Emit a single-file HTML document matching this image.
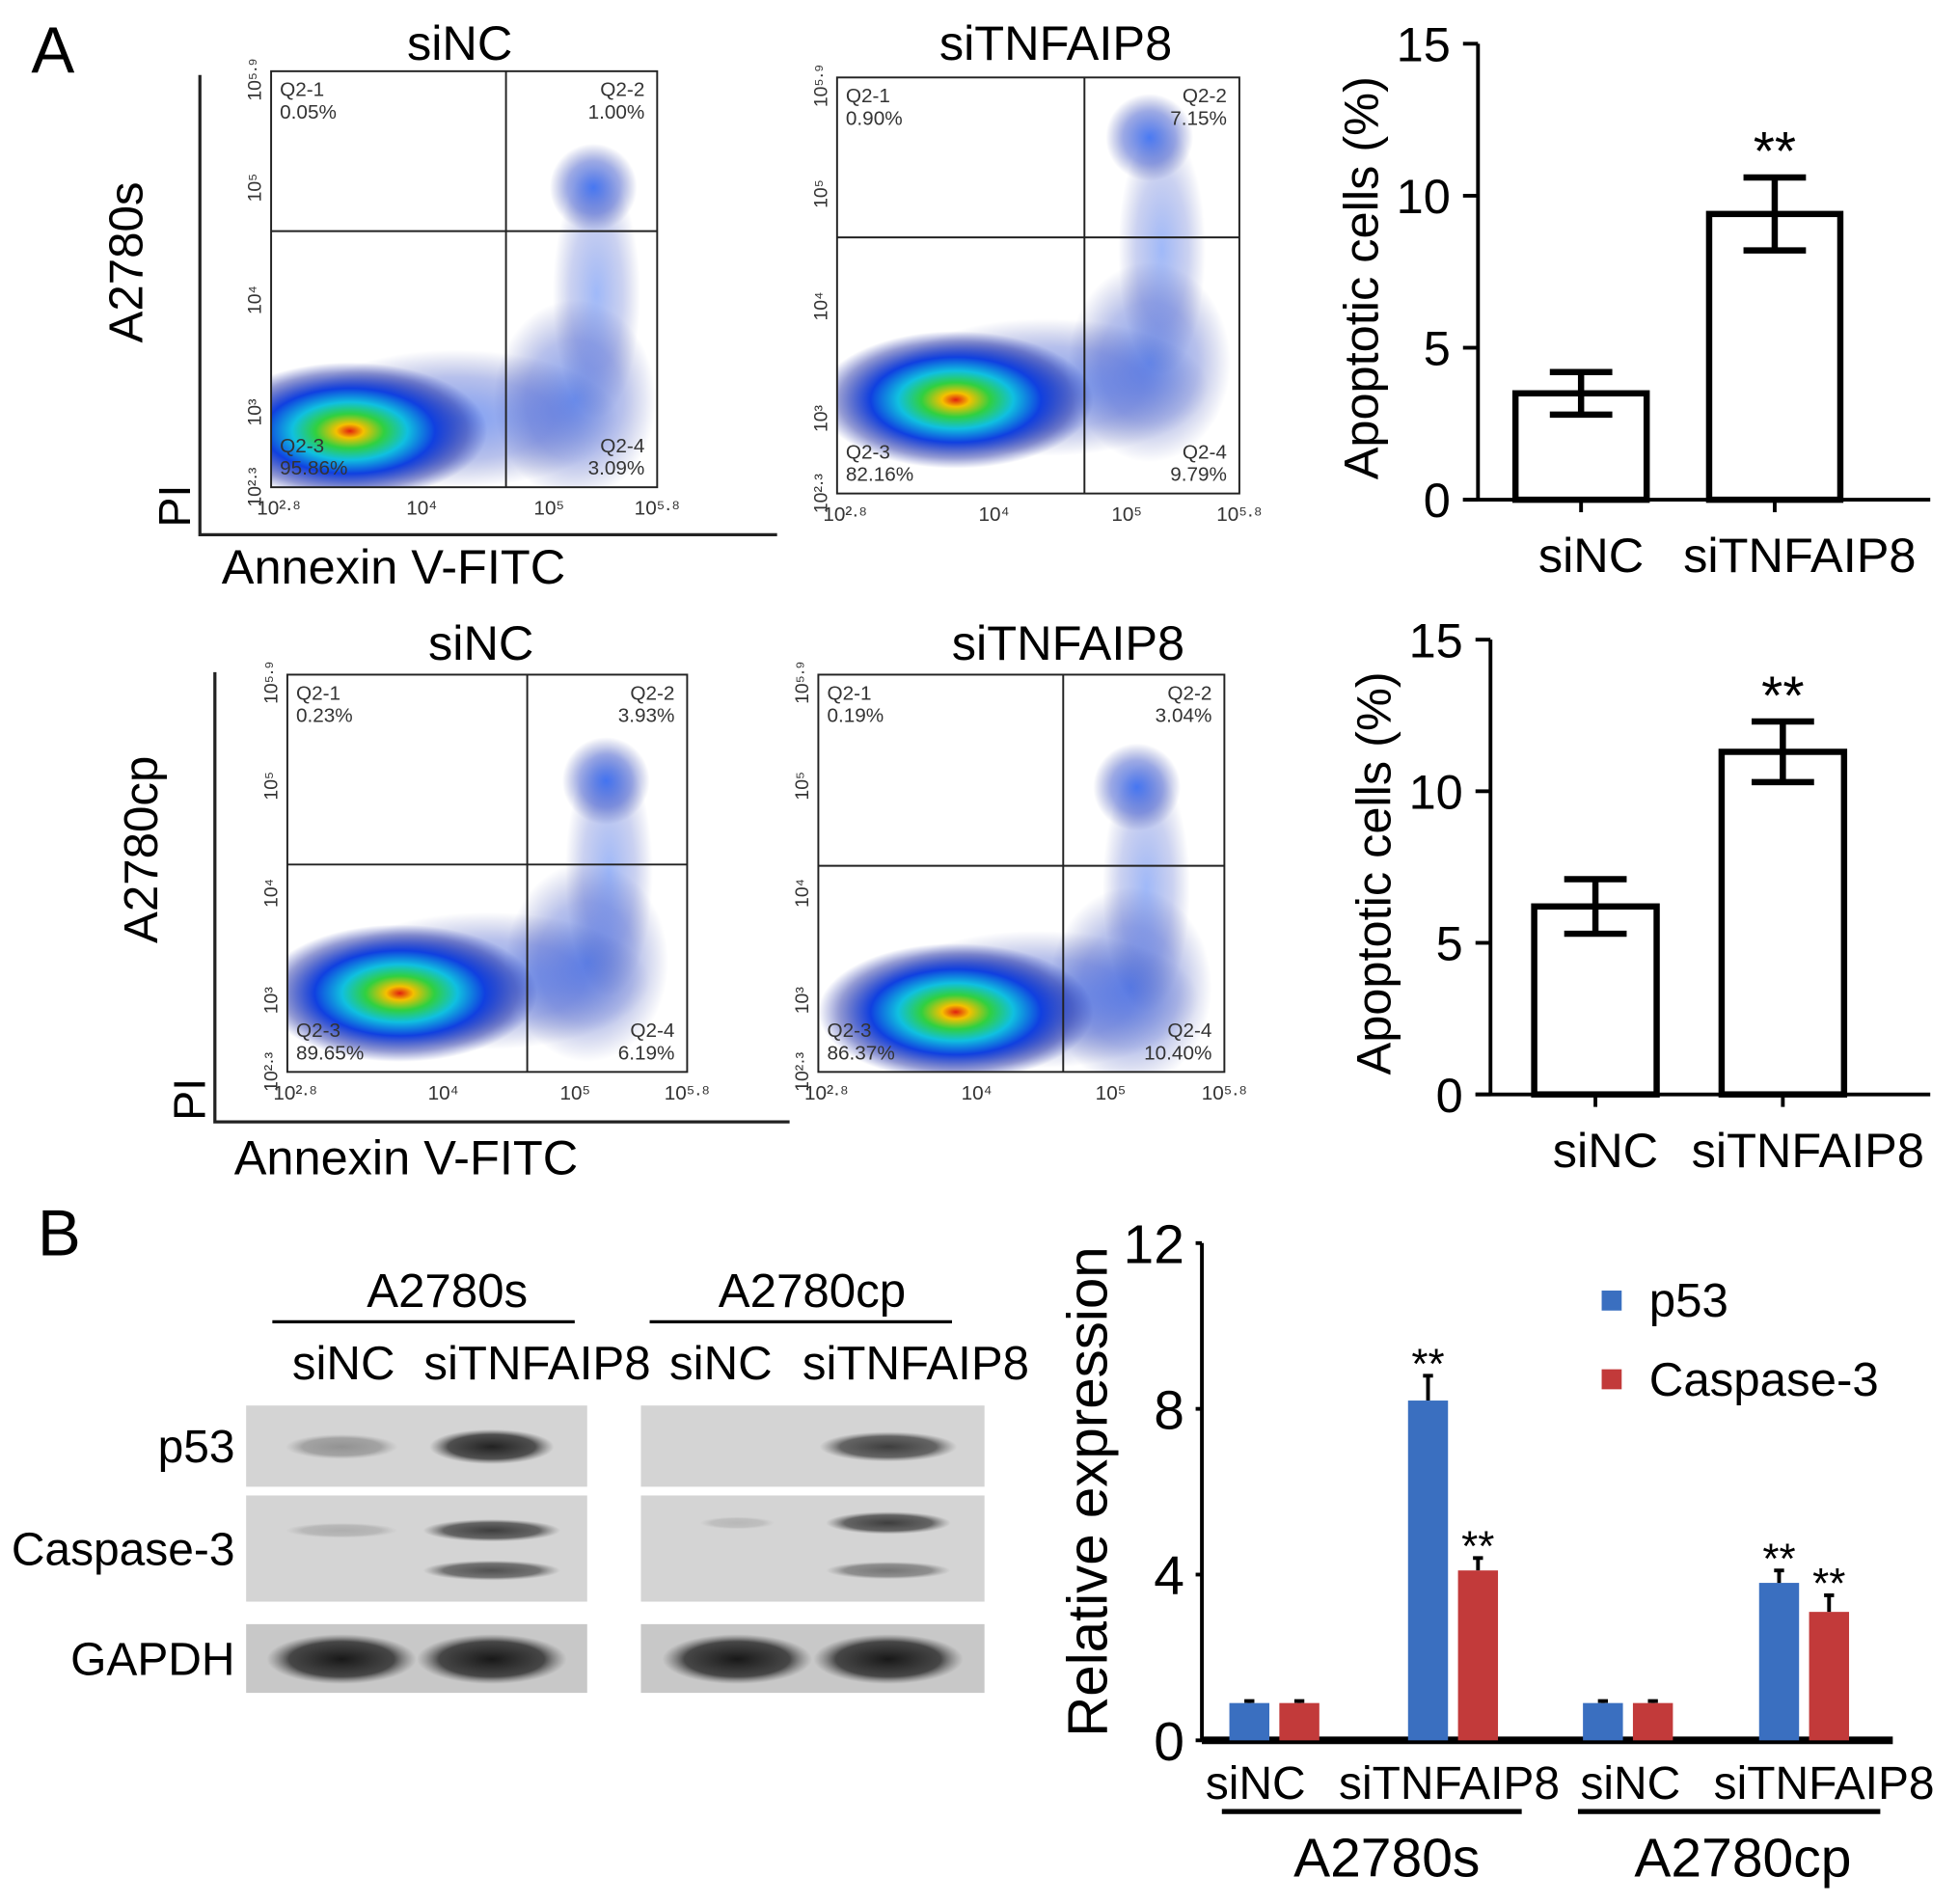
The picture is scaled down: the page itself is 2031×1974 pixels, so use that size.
<!DOCTYPE html>
<html><head><meta charset="utf-8"><style>
html,body{margin:0;padding:0;background:#fff}
svg{display:block}
text{font-family:"Liberation Sans",Arial,sans-serif}
</style></head><body>
<svg id="fig" width="2031" height="1974" viewBox="0 0 1568 1524" preserveAspectRatio="none" xmlns="http://www.w3.org/2000/svg">
<defs>
<radialGradient id="dens" cx="0.5" cy="0.5" r="0.5">
<stop offset="0" stop-color="#e02010"/><stop offset="0.1" stop-color="#f5c000"/><stop offset="0.25" stop-color="#30d040"/><stop offset="0.42" stop-color="#10c0e0"/><stop offset="0.62" stop-color="#1040e0"/><stop offset="0.85" stop-color="#1020a0" stop-opacity="0.45"/><stop offset="1" stop-color="#1020a0" stop-opacity="0"/>
</radialGradient>
<radialGradient id="blu" cx="0.5" cy="0.5" r="0.5">
<stop offset="0" stop-color="#1050f0"/><stop offset="0.6" stop-color="#1030c0" stop-opacity="0.55"/><stop offset="1" stop-color="#102090" stop-opacity="0"/>
</radialGradient>
<radialGradient id="band" cx="0.5" cy="0.5" r="0.5">
<stop offset="0" stop-color="#181818"/><stop offset="0.7" stop-color="#303030" stop-opacity="0.85"/><stop offset="1" stop-color="#606060" stop-opacity="0"/>
</radialGradient>
</defs>
<g id="flow"></g>
<g id="wb"></g>
<g id="bars1"></g>
<g id="bars2"></g>
<g id="bars3"></g>
</svg>
<script>
// ---- chart data ----
const apopCats = ["siNC", "siTNFAIP8"];
const apopTicks = [0, 5, 10, 15];
const apopS = [3.5, 9.4];
const apopSErr = [0.7, 1.2];
const apopCp = [6.2, 11.3];
const apopCpErr = [0.9, 1.0];
const exprCats = ["siNC", "siTNFAIP8", "siNC", "siTNFAIP8"];
const exprTicks = [0, 4, 8, 12];
const p53Vals = [0.9, 8.2, 0.9, 3.8];
const p53Err = [0.05, 0.6, 0.05, 0.3];
const casp3Vals = [0.9, 4.1, 0.9, 3.1];
const casp3Err = [0.05, 0.3, 0.05, 0.4];
const sigP53 = [false, true, false, true];
const sigCasp = [false, true, false, true];

const NS = "http://www.w3.org/2000/svg";
function mk(parent, tag, attrs, txt) {
  const e = document.createElementNS(NS, tag);
  for (const k in attrs) e.setAttribute(k, attrs[k]);
  if (txt !== undefined) e.textContent = txt;
  parent.appendChild(e);
  return e;
}

// ---- apoptosis bar charts ----
function apopChart(g, ax, y0, y15, xEnd, vals, errs, barX, barW, name) {
  const ys = v => y0 - (v / 15) * (y0 - y15);
  let e = mk(g, "line", {x1: ax, y1: y15, x2: ax, y2: y0, stroke: "#000", "stroke-width": 3});
  
  
  e = mk(g, "line", {x1: ax - 12, y1: y0, x2: xEnd, y2: y0, stroke: "#000", "stroke-width": 3});
  
  
  apopTicks.forEach(t => {
    mk(g, "line", {x1: ax - 12, y1: ys(t), x2: ax, y2: ys(t), stroke: "#000", "stroke-width": 3});
    const tl = mk(g, "text", {x: ax - 22, y: ys(t) + 14, "font-size": 39, "text-anchor": "end"}, t);
    
    
  });
  vals.forEach((v, i) => {
    const x = barX[i], cx = x + barW / 2;
    const r = mk(g, "rect", {x: x, y: ys(v), width: barW, height: y0 - ys(v), fill: "#fff", stroke: "#000", "stroke-width": 5});
    
    
    const eb = mk(g, "path", {d: `M${cx},${ys(v + errs[i])}V${ys(v - errs[i])}M${cx - 25},${ys(v + errs[i])}h50M${cx - 25},${ys(v - errs[i])}h50`, stroke: "#000", "stroke-width": 5, fill: "none"});
    
    
    mk(g, "line", {x1: cx, y1: y0, x2: cx, y2: y0 + 10, stroke: "#000", "stroke-width": 3});
    const lab = mk(g, "text", {x: cx + (i ? 20 : 8), y: y0 + 58, "font-size": 39, "text-anchor": "middle"}, apopCats[i]);
    
    
  });
  const st = mk(g, "text", {x: barX[1] + barW / 2, y: ys(vals[1] + errs[1]) - 6, "font-size": 44, "text-anchor": "middle"}, "**");
  
  
  const yt = mk(g, "text", {transform: `translate(${ax - 80},${(y0 + y15) / 2 + 5}) rotate(-90)`, "font-size": 39, "text-anchor": "middle"}, "Apoptotic cells (%)");
  
  
}
apopChart(document.getElementById("bars1"), 1183, 400, 35, 1545, apopS, apopSErr, [1213, 1368], 105, "apoptosis-a2780s");
apopChart(document.getElementById("bars2"), 1193, 876, 512, 1545, apopCp, apopCpErr, [1228, 1378], 98, "apoptosis-a2780cp");

// ---- relative expression chart ----
(function () {
  const g = document.getElementById("bars3");
  const ax = 962, y0 = 1393, yTop = 995;
  const ys = v => y0 - (v / 12) * (y0 - yTop);
  const groupX = [984, 1127, 1267, 1408];
  const labelShift = [-15, -3, 2, 16];
  const bw = 32, gap = 8;
  let e = mk(g, "line", {x1: ax, y1: yTop, x2: ax, y2: y0, stroke: "#000", "stroke-width": 3});
  
  
  e = mk(g, "line", {x1: ax, y1: y0, x2: 1515, y2: y0, stroke: "#000", "stroke-width": 6});
  
  
  exprTicks.forEach(t => {
    mk(g, "line", {x1: ax - 5, y1: ys(t), x2: ax, y2: ys(t), stroke: "#000", "stroke-width": 3});
    const tl = mk(g, "text", {x: ax - 14, y: ys(t) + 16, "font-size": 44, "text-anchor": "end"}, t);
    
    
  });
  function bar(x, v, err, col, sig, nm) {
    const r = mk(g, "rect", {x: x, y: ys(v), width: bw, height: y0 - ys(v), fill: col});
    
    
    const c = x + bw / 2;
    mk(g, "path", {d: `M${c},${ys(v)}V${ys(v + err)}M${c - 4},${ys(v + err)}h8`, stroke: "#000", "stroke-width": 3});
    if (sig) {
      const s = mk(g, "text", {x: c, y: ys(v + err) + 2, "font-size": 34, "text-anchor": "middle"}, "**");
      
      
    }
  }
  exprCats.forEach((c, i) => {
    bar(groupX[i], p53Vals[i], p53Err[i], "#3a6fc0", sigP53[i], 'bar-p53-' + i);
    bar(groupX[i] + bw + gap, casp3Vals[i], casp3Err[i], "#c23a3a", sigCasp[i], 'bar-caspase3-' + i);
    const l = mk(g, "text", {x: groupX[i] + bw + gap / 2 + labelShift[i], y: 1440, "font-size": 37, "text-anchor": "middle"}, c);
    
    
  });
  mk(g, "line", {x1: 978, y1: 1450, x2: 1218, y2: 1450, stroke: "#000", "stroke-width": 4});
  mk(g, "line", {x1: 1263, y1: 1450, x2: 1505, y2: 1450, stroke: "#000", "stroke-width": 4});
  let t = mk(g, "text", {x: 1110, y: 1502, "font-size": 44, "text-anchor": "middle"}, "A2780s");
  
  
  t = mk(g, "text", {x: 1395, y: 1502, "font-size": 44, "text-anchor": "middle"}, "A2780cp");
  
  
  t = mk(g, "text", {transform: `translate(886,${(y0 + yTop) / 2}) rotate(-90)`, "font-size": 45, "text-anchor": "middle"}, "Relative expression");
  
  
  let r = mk(g, "rect", {x: 1282, y: 1033, width: 16, height: 16, fill: "#3a6fc0"});
  
  
  t = mk(g, "text", {x: 1320, y: 1054, "font-size": 38}, "p53");
  
  
  r = mk(g, "rect", {x: 1282, y: 1096, width: 16, height: 16, fill: "#c23a3a"});
  
  
  t = mk(g, "text", {x: 1320, y: 1117, "font-size": 38}, "Caspase-3");
  
  
})();

// ---- flow cytometry plots ----
(function () {
  const g = document.getElementById("flow");
  const plots = [
    {x: 217, y: 57, w: 309, h: 333, qx: 405, qy: 185, q: ["0.05%", "1.00%", "95.86%", "3.09%"], core: [270, 345], ur: [475, 150], lr: [460, 320]},
    {x: 670, y: 62, w: 322, h: 333, qx: 868, qy: 190, q: ["0.90%", "7.15%", "82.16%", "9.79%"], core: [755, 320], ur: [920, 110], lr: [920, 290]},
    {x: 230, y: 540, w: 320, h: 318, qx: 422, qy: 692, q: ["0.23%", "3.93%", "89.65%", "6.19%"], core: [310, 795], ur: [485, 625], lr: [470, 770]},
    {x: 655, y: 540, w: 325, h: 318, qx: 851, qy: 693, q: ["0.19%", "3.04%", "86.37%", "10.40%"], core: [755, 810], ur: [910, 630], lr: [905, 790]}
  ];
  plots.forEach((p, i) => {
    const pg = mk(g, "g", {});
    
    
    const cid = "clip" + i;
    const cp = mk(pg, "clipPath", {id: cid});
    mk(cp, "rect", {x: p.x, y: p.y, width: p.w, height: p.h});
    const cg = mk(pg, "g", {"clip-path": `url(#${cid})`});
    mk(cg, "ellipse", {cx: p.lr[0], cy: p.lr[1], rx: 65, ry: 80, fill: "url(#blu)", opacity: 0.55});
    mk(cg, "ellipse", {cx: (p.lr[0] + p.ur[0]) / 2 + 10, cy: (p.lr[1] + p.ur[1]) / 2, rx: 35, ry: 100, fill: "url(#blu)", opacity: 0.4});
    mk(cg, "ellipse", {cx: p.ur[0], cy: p.ur[1], rx: 35, ry: 35, fill: "url(#blu)", opacity: 0.75});
    mk(cg, "ellipse", {cx: (p.core[0] + p.lr[0]) / 2, cy: p.core[1] - 10, rx: 130, ry: 55, fill: "url(#blu)", opacity: 0.55});
    mk(cg, "ellipse", {cx: p.core[0] + 10, cy: p.core[1], rx: 110, ry: 55, fill: "url(#dens)"});
    mk(pg, "rect", {x: p.x, y: p.y, width: p.w, height: p.h, fill: "none", stroke: "#222", "stroke-width": 1.5});
    mk(pg, "line", {x1: p.qx, y1: p.y, x2: p.qx, y2: p.y + p.h, stroke: "#222", "stroke-width": 1.5});
    mk(pg, "line", {x1: p.x, y1: p.qy, x2: p.x + p.w, y2: p.qy, stroke: "#222", "stroke-width": 1.5});
    const fs = 16;
    const tt = (x, y, s, a) => mk(pg, "text", {x: x, y: y, "font-size": fs, fill: "#333", "text-anchor": a || "start"}, s);
    tt(p.x + 7, p.y + 20, "Q2-1"); tt(p.x + 7, p.y + 38, p.q[0]);
    tt(p.x + p.w - 10, p.y + 20, "Q2-2", "end"); tt(p.x + p.w - 10, p.y + 38, p.q[1], "end");
    tt(p.x + 7, p.y + p.h - 28, "Q2-3"); tt(p.x + 7, p.y + p.h - 10, p.q[2]);
    tt(p.x + p.w - 10, p.y + p.h - 28, "Q2-4", "end"); tt(p.x + p.w - 10, p.y + p.h - 10, p.q[3], "end");
    const ylab = ["10²·³", "10³", "10⁴", "10⁵", "10⁵·⁹"];
    const yfr = [1, 0.82, 0.55, 0.28, 0.02];
    ylab.forEach((l, k) => {
      const yy = p.y + yfr[k] * p.h;
      mk(pg, "text", {transform: `translate(${p.x - 8},${yy}) rotate(-90)`, "font-size": 15, "text-anchor": "middle", fill: "#333"}, l);
    });
    const xlab = ["10²·⁸", "10⁴", "10⁵", "10⁵·⁸"];
    const xfr = [0.02, 0.39, 0.72, 1];
    xlab.forEach((l, k) => {
      mk(pg, "text", {x: p.x + xfr[k] * p.w, y: p.y + p.h + 22, "font-size": 16, "text-anchor": "middle", fill: "#333"}, l);
    });
  });
  const sets = [
    {vx: 160, vy1: 60, hy: 428, hx2: 622, cell: "A2780s", cy: 210, t1: [368, 35], t2: [845, 35], pi: 405, ann: [315, 467]},
    {vx: 172, vy1: 538, hy: 898, hx2: 632, cell: "A2780cp", cy: 680, t1: [385, 515], t2: [855, 515], pi: 880, ann: [325, 940]}
  ];
  sets.forEach((s, i) => {
    mk(g, "path", {d: `M${s.vx},${s.vy1}V${s.hy}H${s.hx2}`, stroke: "#222", "stroke-width": 2.5, fill: "none"});
    let t = mk(g, "text", {transform: `translate(${s.vx - 46},${s.cy}) rotate(-90)`, "font-size": 38, "text-anchor": "middle"}, s.cell);
    
    
    t = mk(g, "text", {transform: `translate(${s.vx - 8},${s.pi}) rotate(-90)`, "font-size": 36, "text-anchor": "middle"}, "PI");
    
    
    t = mk(g, "text", {x: s.ann[0], y: s.ann[1], "font-size": 39, "text-anchor": "middle"}, "Annexin V-FITC");
    
    
    t = mk(g, "text", {x: s.t1[0], y: s.t1[1] + 13, "font-size": 39, "text-anchor": "middle"}, "siNC");
    
    
    t = mk(g, "text", {x: s.t2[0], y: s.t2[1] + 13, "font-size": 39, "text-anchor": "middle"}, "siTNFAIP8");
    
    
  });
  let t = mk(g, "text", {x: 25, y: 58, "font-size": 52}, "A");
  
  
  t = mk(g, "text", {x: 30, y: 1005, "font-size": 52}, "B");
  
  
})();

// ---- western blot ----
(function () {
  const g = document.getElementById("wb");
  const panels = [{x: 197, w: 273}, {x: 513, w: 275}];
  const rows = [{y: 1125, h: 65, name: "p53"}, {y: 1197, h: 85, name: "Caspase-3"}, {y: 1300, h: 55, name: "GAPDH"}];
  const bands = [
    [[[0, 33, 0.35, 45, 10], [1, 33, 0.95, 50, 14]], [[0, 28, 0.2, 45, 6], [1, 28, 0.8, 55, 9], [1, 60, 0.7, 55, 8]], [[0, 28, 1, 60, 20], [1, 28, 1, 60, 20]]],
    [[[1, 33, 0.8, 55, 12]], [[0, 22, 0.15, 30, 5], [1, 22, 0.8, 50, 9], [1, 60, 0.5, 50, 7]], [[0, 28, 1, 60, 20], [1, 28, 1, 60, 20]]]
  ];
  panels.forEach((p, pi) => {
    rows.forEach((r, ri) => {
      const rr = mk(g, "rect", {x: p.x, y: r.y, width: p.w, height: r.h, fill: ri === 2 ? "#c8c8c8" : "#d4d4d4"});
      
      
      bands[pi][ri].forEach(b => {
        const cx = p.x + (b[0] === 0 ? 0.28 : 0.72) * p.w;
        mk(g, "ellipse", {cx: cx, cy: r.y + b[1], rx: b[3], ry: b[4], fill: "url(#band)", opacity: b[2]});
      });
    });
  });
  rows.forEach(r => {
    const t = mk(g, "text", {x: 188, y: r.y + r.h / 2 + 13, "font-size": 37, "text-anchor": "end"}, r.name);
    
    
  });
  const hdr = [[358, 218, 460, "A2780s"], [650, 520, 762, "A2780cp"]];
  hdr.forEach(h => {
    const t = mk(g, "text", {x: h[0], y: 1046, "font-size": 38, "text-anchor": "middle"}, h[3]);
    
    
    mk(g, "line", {x1: h[1], y1: 1058, x2: h[2], y2: 1058, stroke: "#000", "stroke-width": 2.5});
  });
  [[275, "siNC"], [430, "siTNFAIP8"], [577, "siNC"], [733, "siTNFAIP8"]].forEach(l => {
    const t = mk(g, "text", {x: l[0], y: 1104, "font-size": 38, "text-anchor": "middle"}, l[1]);
    
    
  });
})();
</script>
</body></html>
